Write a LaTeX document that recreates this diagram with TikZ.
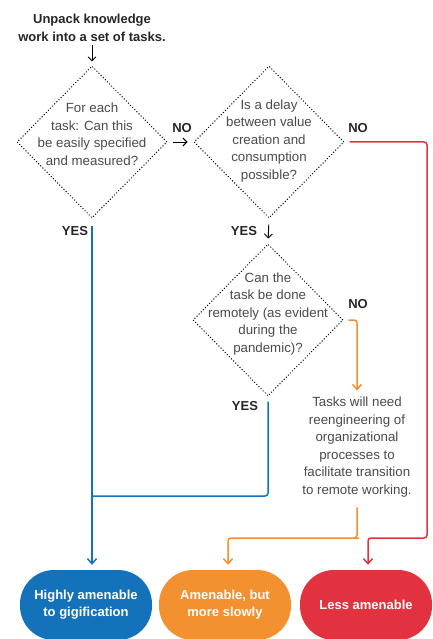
\documentclass[tikz,border=0pt]{standalone}
\usepackage{fontspec}
\setmainfont{Liberation Sans}
\usetikzlibrary{shapes.geometric,arrows.meta}
\definecolor{gigblue}{HTML}{1472BA}
\definecolor{gigorange}{HTML}{F39131}
\definecolor{gigred}{HTML}{E2313F}
\definecolor{qgray}{HTML}{4A4A4A}
\tikzset{
  decision/.style={diamond, draw, dotted, line width=1pt, minimum width=150pt, minimum height=152pt, inner sep=0pt},
  qtext/.style={align=center, text=qgray, font=\fontsize{13.3}{17.5}\selectfont},
  answer/.style={text=black!85, font=\bfseries\fontsize{13}{17}\selectfont},
  outcome/.style={rounded corners=34pt, minimum width=132pt, minimum height=70pt, text=white, align=center, font=\bfseries\fontsize{13}{17}\selectfont},
  wire/.style={line width=1.5pt, rounded corners=3pt},
  link/.style={wire, -{Straight Barb[length=5pt,width=9pt]}},
  plain/.style={line width=0.9pt, -{Straight Barb[length=4pt,width=8pt]}}
}
\begin{document}
\begin{tikzpicture}[x=1pt,y=-1pt]
    \useasboundingbox (0,0) rectangle (433,639);
    \node[align=center, text=black!85, font=\bfseries\fontsize{13}{18}\selectfont] (start) at (92,28) {Unpack knowledge\\work into a set of tasks.};

    \node[decision] (q1) at (92,142) {};
    \node[qtext] (q1text) at (92,134) {For each\\task: Can this\\be easily specified\\and measured?};
    \node[decision] (q2) at (269,142) {};
    \node[qtext] (q2text) at (269,141) {Is a delay\\between value\\creation and\\consumption\\possible?};
    \node[decision] (q3) at (268,320) {};
    \node[qtext] (q3text) at (268,314) {Can the\\task be done\\remotely (as evident\\during the\\pandemic)?};
    \node[qtext] (task) at (357,447) {Tasks will need\\reengineering of\\organizational\\processes to\\facilitate transition\\to remote working.};

    \node[answer] (no1) at (182,128) {NO};
    \node[answer] (no2) at (358,128) {NO};
    \node[answer] (no3) at (358,304) {NO};
    \node[answer] (yes1) at (75,231) {YES};
    \node[answer] (yes2) at (244,231) {YES};
    \node[answer] (yes3) at (245,406) {YES};

    \node[outcome, fill=gigblue] (hi) at (86,605) {Highly amenable\\to gigification};
    \node[outcome, fill=gigorange] (mid) at (225,605) {Amenable, but\\more slowly};
    \node[outcome, fill=gigred] (low) at (366,605) {Less amenable};

    \coordinate (join) at (92,496);
    \coordinate (redbend) at (427,538);
    \coordinate (orangebend) at (356,538);

    \draw[plain, shorten >=4pt] (start.south) -- (q1.north);
    \draw[plain, shorten <=5pt, shorten >=6pt] (q1.east) -- (q2.west);
    \draw[plain, shorten <=6pt, shorten >=5pt] (q2.south) -- (q3.north);

    \draw[link, gigblue, shorten <=7pt, shorten >=5pt] (q1.south) -- (q1.south |- hi.north);
    \draw[wire, gigblue] ([yshift=-5pt]q3.south) |- (join);
    \draw[link, gigred, shorten <=5pt, shorten >=5pt] (q2.east) -| (redbend) -| ([xshift=2pt]low.north);
    \draw[link, gigorange, shorten <=5pt, shorten >=3pt] (q3.east) -| (task.north);
    \draw[link, gigorange, shorten <=7pt, shorten >=5pt] (task.south) |- (orangebend) -| ([xshift=3pt]mid.north);
\end{tikzpicture}
\end{document}
